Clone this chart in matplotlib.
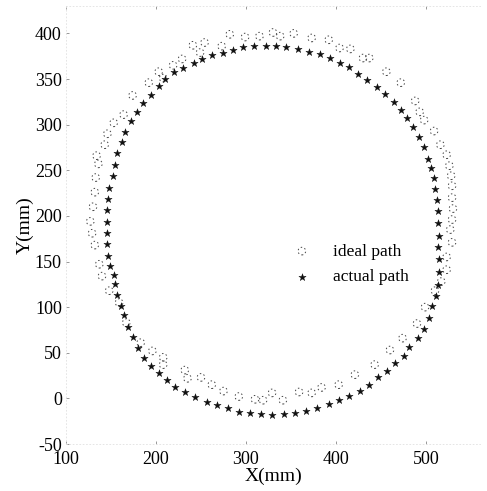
import matplotlib
matplotlib.use("Agg")
import matplotlib.pyplot as plt

# === Data (mm) ===
ideal_x = [127, 129, 130, 132, 133, 136, 134, 143, 146, 153, 164, 174, 192, 203, 208,
           219, 229, 241, 249, 254, 273, 282, 299, 315, 330, 338, 353, 373, 392, 404,
           416, 430, 437, 456, 472, 488, 493, 498, 509, 516, 523, 526, 528, 529, 529,
           530, 529, 527, 529, 523, 523, 517, 510, 499, 490, 474, 460, 443, 421, 403,
           384, 373, 359, 341, 329, 319, 310, 292, 275, 262, 250, 235, 232, 208, 208,
           196, 183, 167, 159, 148, 140, 137, 132]
ideal_y = [194, 181, 210, 226, 242, 257, 266, 278, 290, 302, 311, 332, 346, 358, 351,
           365, 372, 387, 379, 390, 386, 399, 396, 397, 401, 397, 400, 395, 393, 384,
           383, 373, 373, 358, 346, 326, 314, 305, 293, 278, 267, 255, 244, 233, 220,
           208, 196, 185, 171, 155, 141, 128, 118, 100, 82, 66, 53, 37, 26, 15,
           12, 6, 7, -2, 6, -2, -1, 2, 8, 15, 23, 22, 31, 37, 45,
           52, 61, 83, 105, 118, 134, 147, 168]

actual_x = [146, 146, 146, 146, 147, 148, 152, 154, 157, 162, 166, 172, 179, 186, 194,
            203, 210, 220, 230, 242, 251, 262, 274, 286, 297, 309, 322, 333, 344, 358,
            370, 382, 393, 404, 415, 425, 434, 446, 455, 464, 472, 479, 486, 492, 498,
            502, 506, 509, 510, 512, 513, 513, 514, 513, 514, 514, 513, 511, 507, 503,
            498, 491, 481, 476, 466, 457, 447, 437, 427, 415, 403, 392, 379, 367, 354,
            342, 329, 317, 304, 292, 280, 268, 257, 243, 232, 221, 212, 203, 194, 187,
            180, 174, 169, 165, 161, 157, 155, 153, 149, 147]
actual_y = [169, 181, 193, 206, 218, 231, 244, 256, 269, 281, 292, 304, 314, 324, 333,
            342, 350, 358, 362, 368, 372, 376, 379, 382, 385, 386, 386, 386, 385, 383,
            380, 377, 373, 368, 363, 355, 349, 341, 334, 325, 316, 307, 297, 286, 275,
            262, 252, 241, 229, 217, 205, 192, 178, 166, 153, 139, 124, 112, 101, 88,
            76, 66, 56, 47, 39, 30, 23, 15, 8, 3, -2, -6, -11, -14, -16,
            -17, -18, -17, -16, -15, -11, -7, -4, 2, 7, 13, 20, 28, 36, 44,
            55, 67, 78, 91, 101, 113, 125, 135, 145, 156]

x_ticks = [100, 200, 300, 400, 500]
y_ticks = [-50, 0, 50, 100, 150, 200, 250, 300, 350, 400]

plt.rcParams["font.family"] = ["Liberation Serif", "DejaVu Serif"]
plt.rcParams["axes.unicode_minus"] = False

fig = plt.figure(figsize=(4.87, 4.91), dpi=100)
ax = fig.add_axes([0.1355, 0.0957, 0.85, 0.892])

ax.scatter(ideal_x, ideal_y, s=30, facecolors="none", edgecolors="#444444",
           linewidths=0.7, linestyles=(0, (1.5, 2.5)), label="ideal path")
ax.scatter(actual_x, actual_y, s=30, marker="*", color="#111111",
           linewidths=0.3, label="actual path")

ax.set_xlim(100, 560)
ax.set_ylim(-50, 430)
ax.set_xticks(x_ticks)
ax.set_yticks(y_ticks)
ax.tick_params(direction="in", length=2.5, width=0.6, color="#888888",
               labelsize=13, top=True, right=False, pad=3)
ax.tick_params(axis="x", pad=5)

for side in ["top", "bottom", "left", "right"]:
    ax.spines[side].set_color("#e0e0e0")
    ax.spines[side].set_linestyle((0, (1, 3)))
    ax.spines[side].set_linewidth(0.6)
ax.spines["right"].set_visible(False)

ax.set_xlabel("X(mm)", fontsize=14, labelpad=0)
ax.set_ylabel("Y(mm)", fontsize=14, labelpad=1)

ax.legend(loc="center left", bbox_to_anchor=(0.465, 0.41), frameon=False,
          fontsize=12.5, handletextpad=0.8, labelspacing=0.55, borderpad=1.0)

plt.savefig("out.png", dpi=100)
